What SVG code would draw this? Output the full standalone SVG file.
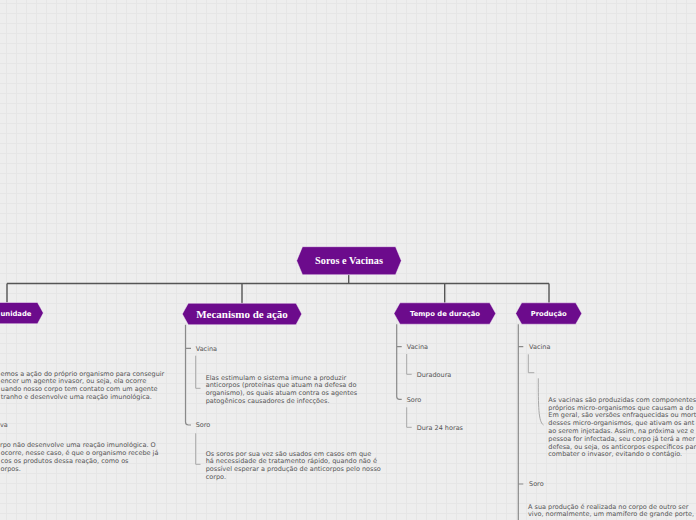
<svg xmlns="http://www.w3.org/2000/svg" width="696" height="520" viewBox="0 0 696 520">
<defs>
<pattern id="grid" x="6" y="3" width="10" height="10" patternUnits="userSpaceOnUse">
<rect width="10" height="10" fill="#eeeeee"/>
<path d="M0 0.5 H10 M0.5 0 V10" stroke="#e6e6e6" stroke-width="1" fill="none"/>
</pattern>
<style>
.hex{fill:#6c0b8c;stroke:#ffffff;stroke-opacity:0.55;stroke-width:0.8}
.ttl{font-family:"Liberation Serif","Times New Roman",serif;font-weight:bold;fill:#ffffff;text-anchor:middle}
.sub{font-family:"DejaVu Sans",Verdana,sans-serif;font-weight:bold;font-size:6.8px;fill:#ffffff;text-anchor:middle}
.t{font-family:"DejaVu Sans",Verdana,sans-serif;font-size:6.5px;fill:#555555}
.main{stroke:#555555;stroke-width:1.4;fill:none}
.br{stroke:#8a8a8a;stroke-width:1.2;fill:none}
.br2{stroke:#a8a8a8;stroke-width:1;fill:none}
</style>
</defs>
<rect width="696" height="520" fill="url(#grid)"/>

<g id="connectors">
<path class="main" d="M348.7 274.7 V283.5 M7 283.5 H549 M7 283.5 V302.5 M242 283.5 V303.3 M444.7 283.5 V302.8 M549 283.5 V302.8"/>
<path class="br" d="M185.5 324.7 V422 Q185.5 425 188.5 425 H191 M185.5 348.3 H191"/>
<path class="br2" d="M195.7 355.7 V388.3 H200.5 M195.7 433.3 V464.3 H200.5"/>
<path class="br" d="M396.7 324.2 V396.5 Q396.7 399.3 399.5 399.3 H401.7 M396.7 346.7 H401.7"/>
<path class="br2" d="M406.7 354 V374.3 H411.7 M406.7 407.3 V427.3 H411.7"/>
<path class="br" d="M518.3 324.2 V520 M518.3 346.7 H523.3 M518.3 484 H523.3"/>
<path class="br2" d="M528.3 354.3 V372.7 H534.3 M538.3 378.3 C538.3 405 538.3 422 543.5 425"/>
</g>

<g id="root">
<polygon class="hex" points="296.7,260.7 302.5,246.7 395.5,246.7 401.3,260.7 395.5,274.7 302.5,274.7"/>
<text class="ttl" x="349" y="264.3" font-size="10.3">Soros e Vacinas</text>
</g>

<g id="imunidade">
<polygon class="hex" points="-29,313 -23,302.5 37.5,302.5 43.3,313 37.5,323.7 -23,323.7"/>
<text class="sub" x="0.5" y="315.8" style="text-anchor:start">unidade</text>
</g>
<g id="imunidade-items">
<text class="t" x="0.5" y="375.6">emos a ação do próprio organismo para conseguir</text>
<text class="t" x="0.5" y="383.4">encer um agente invasor, ou seja, ela ocorre</text>
<text class="t" x="0.8" y="391.2">uando nosso corpo tem contato com um agente</text>
<text class="t" x="0.8" y="399">tranho e desenvolve uma reação imunológica.</text>
<text class="t" x="0" y="426.6">va</text>
<text class="t" x="0" y="447.4">rpo não desenvolve uma reação imunológica. O</text>
<text class="t" x="0.8" y="455.2">ocorre, nesse caso, é que o organismo recebe já</text>
<text class="t" x="0.8" y="463">cos os produtos dessa reação, como os</text>
<text class="t" x="0.5" y="470.8">orpos.</text>
</g>

<g id="mecanismo">
<polygon class="hex" points="182.3,314 188.3,303.3 296,303.3 301.7,314 296,324.7 188.3,324.7"/>
<text class="ttl" x="242" y="317.8" font-size="11">Mecanismo de ação</text>
</g>
<g id="mecanismo-vacina"><text class="t" x="195.7" y="350.7">Vacina</text></g>
<g id="mecanismo-vacina-texto">
<text class="t" x="205.7" y="379.7">Elas estimulam o sistema imune a produzir</text>
<text class="t" x="205.7" y="387.4">anticorpos (proteínas que atuam na defesa do</text>
<text class="t" x="205.7" y="395.1">organismo), os quais atuam contra os agentes</text>
<text class="t" x="205.7" y="402.8">patogênicos causadores de infecções.</text>
</g>
<g id="mecanismo-soro"><text class="t" x="195.7" y="427.4">Soro</text></g>
<g id="mecanismo-soro-texto">
<text class="t" x="205.7" y="455.7">Os soros por sua vez são usados em casos em que</text>
<text class="t" x="205.7" y="463.4">há necessidade de tratamento rápido, quando não é</text>
<text class="t" x="205.7" y="471.1">possível esperar a produção de anticorpos pelo nosso</text>
<text class="t" x="205.7" y="478.8">corpo.</text>
</g>

<g id="tempo">
<polygon class="hex" points="394,313.5 400,302.8 489.7,302.8 495.7,313.5 489.7,324.2 400,324.2"/>
<text class="sub" x="445" y="316">Tempo de duração</text>
</g>
<g id="tempo-vacina"><text class="t" x="406.7" y="349.1">Vacina</text></g>
<g id="tempo-duradoura"><text class="t" x="416.7" y="376.7">Duradoura</text></g>
<g id="tempo-soro"><text class="t" x="406.7" y="401.7">Soro</text></g>
<g id="tempo-24h"><text class="t" x="416.7" y="429.7">Dura 24 horas</text></g>

<g id="producao">
<polygon class="hex" points="515.7,313.5 521.7,302.8 575.7,302.8 581.7,313.5 575.7,324.2 521.7,324.2"/>
<text class="sub" x="548.7" y="316">Produção</text>
</g>
<g id="producao-vacina"><text class="t" x="529" y="349.1">Vacina</text></g>
<g id="producao-vacina-texto">
<text class="t" x="548.3" y="401.7">As vacinas são produzidas com componentes</text>
<text class="t" x="548.3" y="409.5">próprios micro-organismos que causam a do</text>
<text class="t" x="548.3" y="417.3">Em geral, são versões enfraquecidas ou mort</text>
<text class="t" x="548.3" y="425.1">desses micro-organismos, que ativam os ant</text>
<text class="t" x="548.3" y="432.9">ao serem injetadas. Assim, na próxima vez e</text>
<text class="t" x="548.3" y="440.7">pessoa for infectada, seu corpo já terá a mer</text>
<text class="t" x="548.3" y="448.5">defesa, ou seja, os anticorpos específicos par</text>
<text class="t" x="548.3" y="456.3">combater o invasor, evitando o contágio.</text>
</g>
<g id="producao-soro"><text class="t" x="529" y="486.4">Soro</text></g>
<g id="producao-soro-texto">
<text class="t" x="528" y="508.5">A sua produção é realizada no corpo de outro ser</text>
<text class="t" x="528" y="516.3">vivo, normalmente, um mamífero de grande porte,</text>
</g>
</svg>
